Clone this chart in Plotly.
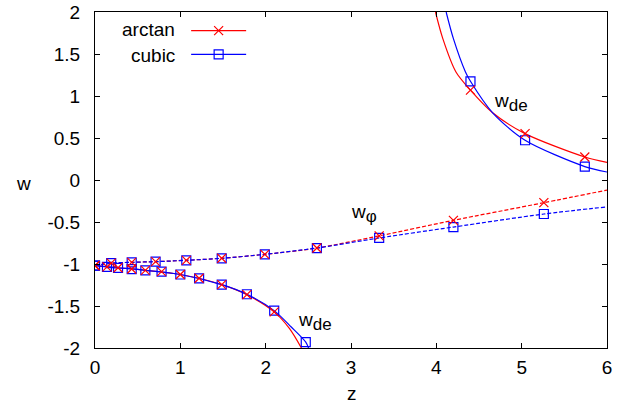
import plotly.graph_objects as go

# ---- data ----
# lower w_de branch (markers)
z_low_mk = [0, 0.14, 0.27, 0.43, 0.59, 0.78, 1.0, 1.22, 1.485, 1.78, 2.10]
w_low_arctan_mk = [-1.02, -1.035, -1.045, -1.06, -1.075, -1.09, -1.125, -1.17, -1.245, -1.365, -1.57]
z_low_cubic_mk = [0, 0.14, 0.27, 0.43, 0.59, 0.78, 1.0, 1.22, 1.485, 1.78, 2.10, 2.47]
w_low_cubic_mk = [-1.02, -1.035, -1.045, -1.06, -1.075, -1.09, -1.125, -1.17, -1.245, -1.36, -1.555, -1.93]
# lower w_de branch (lines)
z_low_arctan = [0, 0.27, 0.59, 1.0, 1.485, 1.78, 2.10, 2.28, 2.43]
w_low_arctan = [-1.02, -1.045, -1.075, -1.125, -1.245, -1.365, -1.57, -1.77, -2.02]
z_low_cubic = [0, 0.27, 0.59, 1.0, 1.485, 1.78, 2.10, 2.30, 2.47, 2.51]
w_low_cubic = [-1.02, -1.045, -1.075, -1.125, -1.245, -1.36, -1.555, -1.75, -1.93, -2.02]

# w_phi (dashed)
z_phi_mk = [0, 0.19, 0.43, 0.71, 1.07, 1.485, 1.99, 2.60, 3.33, 4.20, 5.26]
w_phi_arctan_mk = [-1.02, -0.99, -0.98, -0.972, -0.956, -0.932, -0.885, -0.81, -0.665, -0.48, -0.27]
w_phi_cubic_mk = [-1.02, -0.99, -0.98, -0.972, -0.956, -0.932, -0.885, -0.81, -0.69, -0.56, -0.405]
z_phi_end = [6.0]
w_phi_arctan_end = [-0.12]
w_phi_cubic_end = [-0.32]

# upper w_de branch (lines)
z_up_arctan = [3.99, 4.076, 4.23, 4.40, 4.66, 5.04, 5.74, 6.0]
w_up_arctan = [2.0, 1.683, 1.286, 1.07, 0.80, 0.552, 0.274, 0.21]
z_up_cubic = [4.115, 4.20, 4.34, 4.40, 4.66, 5.04, 5.74, 6.0]
w_up_cubic = [2.0, 1.683, 1.29, 1.175, 0.80, 0.473, 0.16, 0.095]
# upper w_de branch (markers)
z_up_mk = [4.40, 5.04, 5.74]
w_up_arctan_mk = [1.07, 0.552, 0.274]
w_up_cubic_mk = [1.175, 0.473, 0.16]

x_ticks = [0, 1, 2, 3, 4, 5, 6]
y_ticks = [-2, -1.5, -1, -0.5, 0, 0.5, 1, 1.5, 2]
y_tick_text = ["-2", "-1.5", "-1", "-0.5", "0", "0.5", "1", "1.5", "2"]

RED = "#ff0000"
BLUE = "#0000ff"
FONT = "Liberation Sans, Arial, sans-serif"

fig = go.Figure()

def line(x, y, color, dash="solid"):
    fig.add_trace(go.Scatter(x=x, y=y, mode="lines", showlegend=False, hoverinfo="skip",
                             line=dict(color=color, width=1.2, dash=dash, shape="spline", smoothing=0.8)))

def marks(x, y, color, symbol):
    fig.add_trace(go.Scatter(x=x, y=y, mode="markers", showlegend=False,
                             marker=dict(symbol=symbol, size=9, color=color,
                                         line=dict(color=color, width=1.2))))

# w_phi dashed
line(z_phi_mk + z_phi_end, w_phi_arctan_mk + w_phi_arctan_end, RED, "4px,2px")
line(z_phi_mk + z_phi_end, w_phi_cubic_mk + w_phi_cubic_end, BLUE, "4px,2px")
# w_de lower
line(z_low_arctan, w_low_arctan, RED)
line(z_low_cubic, w_low_cubic, BLUE)
# w_de upper
line(z_up_arctan, w_up_arctan, RED)
line(z_up_cubic, w_up_cubic, BLUE)

# markers
marks(z_phi_mk, w_phi_cubic_mk, BLUE, "square-open")
marks(z_low_cubic_mk, w_low_cubic_mk, BLUE, "square-open")
marks(z_up_mk, w_up_cubic_mk, BLUE, "square-open")
marks(z_phi_mk, w_phi_arctan_mk, RED, "x-thin-open")
marks(z_low_mk, w_low_arctan_mk, RED, "x-thin-open")
marks(z_up_mk, w_up_arctan_mk, RED, "x-thin-open")

# legend entries (symbols only; text via annotations to mimic gnuplot key)
fig.add_trace(go.Scatter(x=[None], y=[None], mode="lines+markers", name=" ",
                         line=dict(color=RED, width=1.2),
                         marker=dict(symbol="x-thin-open", size=9, color=RED, line=dict(color=RED, width=1.2))))
fig.add_trace(go.Scatter(x=[None], y=[None], mode="lines+markers", name="  ",
                         line=dict(color=BLUE, width=1.2),
                         marker=dict(symbol="square-open", size=9, color=BLUE, line=dict(color=BLUE, width=1.2))))

axis_common = dict(showgrid=False, zeroline=False, showline=True, linecolor="black", linewidth=1,
                   mirror="allticks", ticks="inside", ticklen=5, tickcolor="black", tickwidth=1,
                   automargin=False,
                   tickfont=dict(family=FONT, size=19, color="black"))

fig.update_layout(
    width=633, height=405,
    margin=dict(l=95, r=26, t=12, b=57, autoexpand=False),
    plot_bgcolor="white", paper_bgcolor="white",
    hovermode=False,
    xaxis=dict(range=[0, 6], tickvals=x_ticks, ticklabelstandoff=2, **axis_common),
    yaxis=dict(range=[-2, 2], tickvals=y_ticks, ticktext=y_tick_text, ticklabelstandoff=10, **axis_common),
    legend=dict(x=0.178, y=0.995, xanchor="left", yanchor="top", bgcolor="rgba(0,0,0,0)",
                font=dict(family=FONT, size=16), itemwidth=55, tracegroupgap=0),
    showlegend=True,
    font=dict(family=FONT, size=19, color="black"),
)

SUB = "<sub><span style='font-size:17px'>%s</span></sub>"
annots = [
    dict(text="arctan", x=0.160, y=0.9485, xref="paper", yref="paper", xanchor="right", yanchor="middle"),
    dict(text="cubic", x=0.160, y=0.871, xref="paper", yref="paper", xanchor="right", yanchor="middle"),
    dict(text="w", x=-0.1406, y=0.49, xref="paper", yref="paper", xanchor="center", yanchor="middle"),
    dict(text="z", x=0.502, y=-0.135, xref="paper", yref="paper", xanchor="center", yanchor="middle"),
    dict(text="w" + SUB % "de", x=4.65, y=0.92, xref="x", yref="y", xanchor="left", yanchor="middle"),
    dict(text="w" + SUB % "de", x=2.35, y=-1.68, xref="x", yref="y", xanchor="left", yanchor="middle"),
    dict(text="w" + SUB % "φ", x=2.975, y=-0.40, xref="x", yref="y", xanchor="left", yanchor="middle"),
]
for a in annots:
    fig.add_annotation(showarrow=False, font=dict(family=FONT, size=19, color="black"), **a)

# remove the default 8px page margin so the figure fills the window exactly
fig.write_html("out.html", config={"displayModeBar": False},
               post_script="document.body.style.margin='0';")
